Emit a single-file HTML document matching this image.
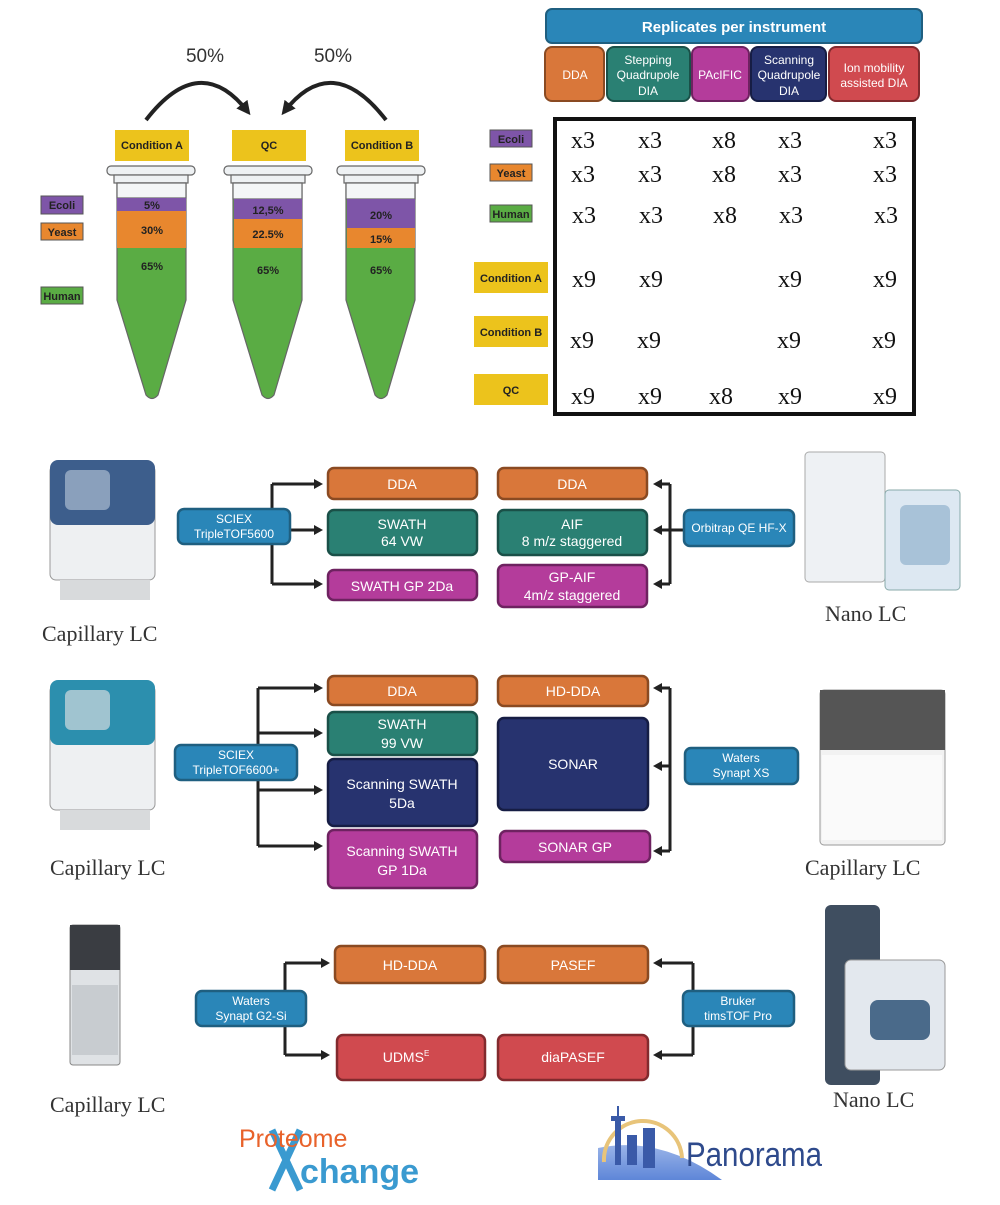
<!DOCTYPE html>
<html><head><meta charset="utf-8"><style>
body{margin:0;background:#fff}
svg text{font-family:"Liberation Sans",sans-serif}
.s{font-family:"Liberation Serif",serif}
</style></head><body>
<svg width="1000" height="1200" viewBox="0 0 1000 1200" xmlns="http://www.w3.org/2000/svg">
<defs>
<marker id="ah" markerWidth="9" markerHeight="10" refX="6" refY="5" orient="auto" markerUnits="userSpaceOnUse"><path d="M0,0 L9,5 L0,10 z" fill="#222"/></marker>
<marker id="bh" markerWidth="14" markerHeight="14" refX="10" refY="7" orient="auto" markerUnits="userSpaceOnUse"><path d="M0,0 L14,7 L0,14 z" fill="#222"/></marker>
<linearGradient id="pg" x1="0" y1="0" x2="0" y2="1"><stop offset="0" stop-color="#9ab4e8"/><stop offset="1" stop-color="#5e86d8"/></linearGradient>
</defs>
<!-- top-left -->
<text x="205" y="62" font-size="19" text-anchor="middle" fill="#333">50%</text>
<text x="333" y="62" font-size="19" text-anchor="middle" fill="#333">50%</text>
<path d="M146,120 Q200,50 248,112" stroke="#222" stroke-width="4" fill="none" marker-end="url(#bh)"/>
<path d="M386,120 Q332,50 284,112" stroke="#222" stroke-width="4" fill="none" marker-end="url(#bh)"/>
<g font-size="11" font-weight="bold" text-anchor="middle" fill="#222">
<rect x="115" y="130" width="74" height="31" fill="#ecc31c"/><text x="152" y="149">Condition A</text>
<rect x="232" y="130" width="74" height="31" fill="#ecc31c"/><text x="269" y="149">QC</text>
<rect x="345" y="130" width="74" height="31" fill="#ecc31c"/><text x="382" y="149">Condition B</text>
</g>
<!-- tubes -->
<g stroke="#666" stroke-width="1.2">
<rect x="107" y="166" width="88" height="9" rx="4" fill="#eef1f3"/>
<rect x="114" y="175" width="74" height="8" fill="#eef1f3"/>
<path d="M117,183 L186,183 L186,300 L158,395 Q152,402 146,395 L117,300 Z" fill="#5aac44"/>
<rect x="117" y="183" width="69" height="15" fill="#f4f6f7"/>
<rect x="224" y="166" width="88" height="9" rx="4" fill="#eef1f3"/>
<rect x="231" y="175" width="74" height="8" fill="#eef1f3"/>
<path d="M233,183 L302,183 L302,300 L274,395 Q268,402 262,395 L233,300 Z" fill="#5aac44"/>
<rect x="233" y="183" width="69" height="16" fill="#f4f6f7"/>
<rect x="337" y="166" width="88" height="9" rx="4" fill="#eef1f3"/>
<rect x="344" y="175" width="74" height="8" fill="#eef1f3"/>
<path d="M346,183 L415,183 L415,300 L387,395 Q381,402 375,395 L346,300 Z" fill="#5aac44"/>
<rect x="346" y="183" width="69" height="16" fill="#f4f6f7"/>
</g>
<rect x="117" y="198" width="69" height="13" fill="#7e55a8"/><rect x="117" y="211" width="69" height="37" fill="#e8872e"/>
<rect x="234" y="199" width="68" height="20" fill="#7e55a8"/><rect x="234" y="219" width="68" height="29" fill="#e8872e"/>
<rect x="347" y="199" width="68" height="29" fill="#7e55a8"/><rect x="347" y="228" width="68" height="20" fill="#e8872e"/>
<g font-size="11" font-weight="bold" text-anchor="middle" fill="#222">
<text x="152" y="209">5%</text><text x="152" y="234">30%</text><text x="152" y="270">65%</text>
<text x="268" y="214">12,5%</text><text x="268" y="238">22.5%</text><text x="268" y="274">65%</text>
<text x="381" y="219">20%</text><text x="381" y="243">15%</text><text x="381" y="274">65%</text>
</g>
<g font-size="11" font-weight="bold" text-anchor="middle" fill="#222" stroke-width="1" >
<rect x="41" y="196" width="42" height="18" fill="#7e55a8" stroke="#555"/><text x="62" y="209">Ecoli</text>
<rect x="41" y="223" width="42" height="17" fill="#e8872e" stroke="#555"/><text x="62" y="236">Yeast</text>
<rect x="41" y="287" width="42" height="17" fill="#5aac44" stroke="#555"/><text x="62" y="300">Human</text>
</g>
<!-- top-right -->
<rect x="546" y="9" width="376" height="34" rx="6" fill="#2a86b8" stroke="#1f5f80" stroke-width="2"/>
<text x="734" y="32" font-size="15" font-weight="bold" fill="#fff" text-anchor="middle">Replicates per instrument</text>
<g stroke-width="2">
<rect x="545" y="47" width="59" height="54" rx="7" fill="#d9773a" stroke="#8a4a22"/>
<rect x="607" y="47" width="83" height="54" rx="7" fill="#2a8073" stroke="#1a5048"/>
<rect x="692" y="47" width="57" height="54" rx="7" fill="#b43c9b" stroke="#6e2260"/>
<rect x="751" y="47" width="75" height="54" rx="7" fill="#27336f" stroke="#161d44"/>
<rect x="829" y="47" width="90" height="54" rx="7" fill="#d04a4f" stroke="#822a2e"/>
</g>
<g font-size="12" fill="#fff" text-anchor="middle">
<text x="575" y="79">DDA</text>
<text x="648" y="64">Stepping</text><text x="648" y="79">Quadrupole</text><text x="648" y="95">DIA</text>
<text x="720" y="79">PAcIFIC</text>
<text x="789" y="64">Scanning</text><text x="789" y="79">Quadrupole</text><text x="789" y="95">DIA</text>
<text x="874" y="72">Ion mobility</text><text x="874" y="87">assisted DIA</text>
</g>
<rect x="555" y="119" width="359" height="295" fill="#fff" stroke="#111" stroke-width="4"/>
<g font-size="11" font-weight="bold" text-anchor="middle" fill="#222">
<rect x="490" y="130" width="42" height="17" fill="#7e55a8" stroke="#555"/><text x="511" y="143">Ecoli</text>
<rect x="490" y="164" width="42" height="17" fill="#e8872e" stroke="#555"/><text x="511" y="177">Yeast</text>
<rect x="490" y="205" width="42" height="17" fill="#5aac44" stroke="#555"/><text x="511" y="218">Human</text>
<rect x="474" y="262" width="74" height="31" fill="#ecc31c"/><text x="511" y="282">Condition A</text>
<rect x="474" y="316" width="74" height="31" fill="#ecc31c"/><text x="511" y="336">Condition B</text>
<rect x="474" y="374" width="74" height="31" fill="#ecc31c"/><text x="511" y="394">QC</text>
</g>
<g font-size="24" text-anchor="middle" fill="#111">
<text x="583" y="148" class="s">x3</text><text x="650" y="148" class="s">x3</text><text x="724" y="148" class="s">x8</text><text x="790" y="148" class="s">x3</text><text x="885" y="148" class="s">x3</text>
<text x="583" y="182" class="s">x3</text><text x="650" y="182" class="s">x3</text><text x="724" y="182" class="s">x8</text><text x="790" y="182" class="s">x3</text><text x="885" y="182" class="s">x3</text>
<text x="584" y="223" class="s">x3</text><text x="651" y="223" class="s">x3</text><text x="725" y="223" class="s">x8</text><text x="791" y="223" class="s">x3</text><text x="886" y="223" class="s">x3</text>
<text x="584" y="287" class="s">x9</text><text x="651" y="287" class="s">x9</text><text x="790" y="287" class="s">x9</text><text x="885" y="287" class="s">x9</text>
<text x="582" y="348" class="s">x9</text><text x="649" y="348" class="s">x9</text><text x="789" y="348" class="s">x9</text><text x="884" y="348" class="s">x9</text>
<text x="583" y="404" class="s">x9</text><text x="650" y="404" class="s">x9</text><text x="721" y="404" class="s">x8</text><text x="790" y="404" class="s">x9</text><text x="885" y="404" class="s">x9</text>
</g>
<!-- instruments (approximate) -->
<g>
<rect x="50" y="465" width="105" height="115" rx="6" fill="#eef0f2" stroke="#999"/>
<rect x="50" y="460" width="105" height="65" rx="8" fill="#3d5e8c"/>
<rect x="65" y="470" width="45" height="40" rx="6" fill="#8aa0bc"/>
<rect x="60" y="580" width="90" height="20" fill="#d8dadc"/>
<rect x="50" y="685" width="105" height="125" rx="6" fill="#eef0f2" stroke="#999"/>
<rect x="50" y="680" width="105" height="65" rx="8" fill="#2c8fae"/>
<rect x="65" y="690" width="45" height="40" rx="6" fill="#a0c4d0"/>
<rect x="60" y="810" width="90" height="20" fill="#d8dadc"/>
<rect x="70" y="925" width="50" height="140" rx="3" fill="#dfe2e5" stroke="#888"/>
<rect x="70" y="925" width="50" height="45" fill="#3a3d42"/>
<rect x="72" y="985" width="46" height="70" fill="#c8ccd0"/>
<rect x="805" y="452" width="80" height="130" rx="4" fill="#eef1f4" stroke="#aaa"/>
<rect x="885" y="490" width="75" height="100" rx="4" fill="#dde8f2" stroke="#8aa"/>
<rect x="900" y="505" width="50" height="60" rx="6" fill="#a8c2d8"/>
<rect x="820" y="690" width="125" height="155" rx="4" fill="#f2f2f2" stroke="#999"/>
<rect x="820" y="690" width="125" height="60" fill="#555"/>
<rect x="822" y="755" width="120" height="85" fill="#fafafa"/>
<rect x="825" y="905" width="55" height="180" rx="6" fill="#3f4e60"/>
<rect x="845" y="960" width="100" height="110" rx="6" fill="#e3e8ee" stroke="#999"/>
<rect x="870" y="1000" width="60" height="40" rx="8" fill="#4a6a8a"/>
</g>
<g font-size="22" fill="#333">
<text x="42" y="641" class="s">Capillary LC</text>
<text x="825" y="621" class="s">Nano LC</text>
<text x="50" y="875" class="s">Capillary LC</text>
<text x="805" y="875" class="s">Capillary LC</text>
<text x="50" y="1112" class="s">Capillary LC</text>
<text x="833" y="1107" class="s">Nano LC</text>
</g>
<!-- connectors -->
<g stroke="#222" stroke-width="3" fill="none">
<path d="M272,484 V584" /><path d="M272,484 H320" marker-end="url(#ah)"/><path d="M272,530 H320" marker-end="url(#ah)"/><path d="M272,584 H320" marker-end="url(#ah)"/><path d="M272,527 H290"/>
<path d="M670,484 V584"/><path d="M684,530 H670"/><path d="M670,484 H656" marker-end="url(#ah)"/><path d="M670,530 H656" marker-end="url(#ah)"/><path d="M670,584 H656" marker-end="url(#ah)"/>
<path d="M258,688 V846"/><path d="M258,688 H320" marker-end="url(#ah)"/><path d="M258,733 H320" marker-end="url(#ah)"/><path d="M258,790 H320" marker-end="url(#ah)"/><path d="M258,846 H320" marker-end="url(#ah)"/>
<path d="M670,688 V851"/><path d="M670,688 H656" marker-end="url(#ah)"/><path d="M670,766 H656" marker-end="url(#ah)"/><path d="M670,851 H656" marker-end="url(#ah)"/>
<path d="M285,963 V1055"/><path d="M285,963 H327" marker-end="url(#ah)"/><path d="M285,1055 H327" marker-end="url(#ah)"/>
<path d="M693,963 V1055"/><path d="M693,963 H656" marker-end="url(#ah)"/><path d="M693,1055 H656" marker-end="url(#ah)"/>
</g>
<!-- method boxes -->
<g stroke-width="2.5">
<rect x="328" y="468" width="149" height="31" rx="6" fill="#d9773a" stroke="#8a4a22"/>
<rect x="328" y="510" width="149" height="45" rx="6" fill="#2a8073" stroke="#1a5048"/>
<rect x="328" y="570" width="149" height="30" rx="6" fill="#b43c9b" stroke="#6e2260"/>
<rect x="498" y="468" width="149" height="31" rx="6" fill="#d9773a" stroke="#8a4a22"/>
<rect x="498" y="510" width="149" height="45" rx="6" fill="#2a8073" stroke="#1a5048"/>
<rect x="498" y="565" width="149" height="42" rx="6" fill="#b43c9b" stroke="#6e2260"/>
<rect x="328" y="676" width="149" height="29" rx="6" fill="#d9773a" stroke="#8a4a22"/>
<rect x="328" y="712" width="149" height="43" rx="6" fill="#2a8073" stroke="#1a5048"/>
<rect x="328" y="759" width="149" height="67" rx="6" fill="#27336f" stroke="#161d44"/>
<rect x="328" y="830" width="149" height="58" rx="6" fill="#b43c9b" stroke="#6e2260"/>
<rect x="498" y="676" width="150" height="30" rx="6" fill="#d9773a" stroke="#8a4a22"/>
<rect x="498" y="718" width="150" height="92" rx="6" fill="#27336f" stroke="#161d44"/>
<rect x="500" y="831" width="150" height="31" rx="6" fill="#b43c9b" stroke="#6e2260"/>
<rect x="335" y="946" width="150" height="37" rx="6" fill="#d9773a" stroke="#8a4a22"/>
<rect x="337" y="1035" width="148" height="45" rx="6" fill="#d04a4f" stroke="#822a2e"/>
<rect x="498" y="946" width="150" height="37" rx="6" fill="#d9773a" stroke="#8a4a22"/>
<rect x="498" y="1035" width="150" height="45" rx="6" fill="#d04a4f" stroke="#822a2e"/>
<rect x="178" y="509" width="112" height="35" rx="6" fill="#2a86b8" stroke="#1f5f80"/>
<rect x="684" y="510" width="110" height="36" rx="6" fill="#2a86b8" stroke="#1f5f80"/>
<rect x="175" y="745" width="122" height="35" rx="6" fill="#2a86b8" stroke="#1f5f80"/>
<rect x="685" y="748" width="113" height="36" rx="6" fill="#2a86b8" stroke="#1f5f80"/>
<rect x="196" y="991" width="110" height="35" rx="6" fill="#2a86b8" stroke="#1f5f80"/>
<rect x="683" y="991" width="111" height="35" rx="6" fill="#2a86b8" stroke="#1f5f80"/>
</g>
<g font-size="14" fill="#fff" text-anchor="middle">
<text x="402" y="489">DDA</text>
<text x="402" y="529">SWATH</text><text x="402" y="546">64 VW</text>
<text x="402" y="591">SWATH GP 2Da</text>
<text x="572" y="489">DDA</text>
<text x="572" y="529">AIF</text><text x="572" y="546">8 m/z staggered</text>
<text x="572" y="582">GP-AIF</text><text x="572" y="600">4m/z staggered</text>
<text x="402" y="696">DDA</text>
<text x="402" y="729">SWATH</text><text x="402" y="748">99 VW</text>
<text x="402" y="789">Scanning SWATH</text><text x="402" y="808">5Da</text>
<text x="402" y="856">Scanning SWATH</text><text x="402" y="875">GP 1Da</text>
<text x="573" y="696">HD-DDA</text>
<text x="573" y="769">SONAR</text>
<text x="575" y="852">SONAR GP</text>
<text x="410" y="970">HD-DDA</text>
<text x="406" y="1062">UDMS<tspan font-size="8" dy="-6">E</tspan></text>
<text x="573" y="970">PASEF</text>
<text x="573" y="1062">diaPASEF</text>
</g>
<g font-size="12" fill="#fff" text-anchor="middle">
<text x="234" y="523">SCIEX</text><text x="234" y="538">TripleTOF5600</text>
<text x="739" y="532">Orbitrap QE HF-X</text>
<text x="236" y="759">SCIEX</text><text x="236" y="774">TripleTOF6600+</text>
<text x="741" y="762">Waters</text><text x="741" y="777">Synapt XS</text>
<text x="251" y="1005">Waters</text><text x="251" y="1020">Synapt G2-Si</text>
<text x="738" y="1005">Bruker</text><text x="738" y="1020">timsTOF Pro</text>
</g>
<!-- logos -->
<path d="M272,1130 L300,1190 M300,1130 L272,1190" stroke="#3a9ad0" stroke-width="7" fill="none"/>
<text x="239" y="1147" font-size="25" fill="#e8622a">Proteome</text>
<text x="300" y="1183" font-size="34" font-weight="bold" fill="#3a9ad0">change</text>
<path d="M598,1180 L598,1148 Q660,1135 722,1180 Z" fill="url(#pg)"/>
<path d="M604,1162 A38,38 0 0 1 682,1158" fill="none" stroke="#e8c47a" stroke-width="4"/>
<rect x="615" y="1118" width="6" height="47" fill="#3a5aa8"/>
<rect x="611" y="1116" width="14" height="5" fill="#3a5aa8"/>
<rect x="617" y="1106" width="2" height="10" fill="#3a5aa8"/>
<rect x="627" y="1135" width="10" height="30" fill="#3a5aa8"/>
<rect x="643" y="1128" width="12" height="40" fill="#3a5aa8"/>
<text x="686" y="1166" font-size="34" fill="#2e4a8c" textLength="136" lengthAdjust="spacingAndGlyphs">Panorama</text>
</svg>
</body></html>
